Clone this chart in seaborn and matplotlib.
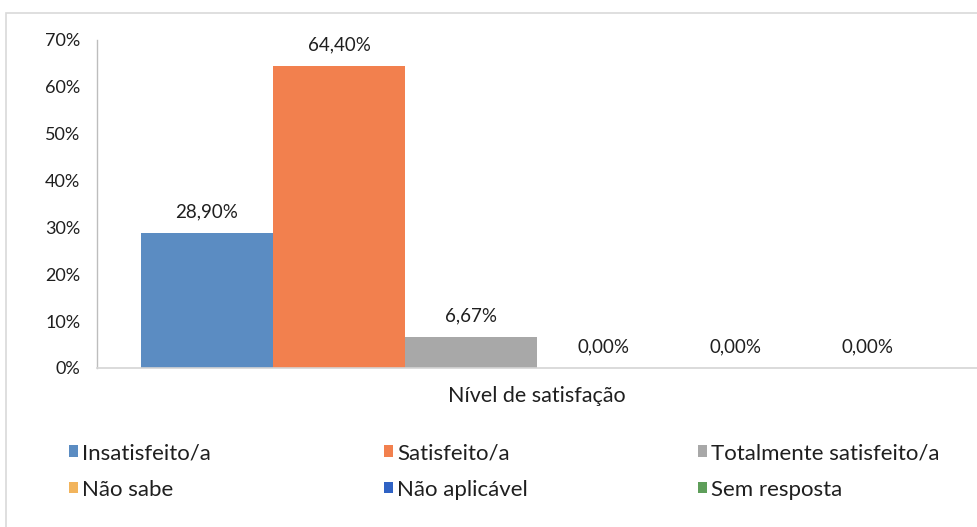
import matplotlib
matplotlib.use("Agg")
import matplotlib.pyplot as plt
from matplotlib.patches import Patch, Rectangle
from matplotlib.ticker import FuncFormatter, MultipleLocator
import seaborn as sns
import pandas as pd

# Survey results: satisfaction level (share of respondents, %)
categories = ["Insatisfeito/a", "Satisfeito/a", "Totalmente satisfeito/a",
              "Não sabe", "Não aplicável", "Sem resposta"]
values = [28.90, 64.40, 6.67, 0.00, 0.00, 0.00]
group_label = "Nível de satisfação"
colors = ["#5B8CC2", "#F2804E", "#A8A8A8", "#F2B45C", "#2F62C4", "#5E9E5A"]

df = pd.DataFrame({
    "grupo": [group_label] * len(categories),
    "categoria": categories,
    "valor": [v / 100 for v in values],
})

sns.set_theme(style="white")
plt.rcParams["font.family"] = ["Lato", "DejaVu Sans"]
text_color = "#1F1F1F"

fig = plt.figure(figsize=(9.77, 5.27), dpi=100)
ax = fig.add_axes([97 / 977, 1 - 368 / 527, 880 / 977, 328 / 527])

sns.barplot(data=df, x="grupo", y="valor", hue="categoria",
            hue_order=categories, palette=colors, width=0.9,
            saturation=1, linewidth=0, legend=False, ax=ax)

# value labels with Portuguese decimal comma
for container, v in zip(ax.containers, values):
    ax.bar_label(container, labels=[f"{v:.2f}".replace(".", ",") + "%"],
                 padding=9, fontsize=13.5, color=text_color)

ax.set_ylim(0, 0.70)
ax.set_xlim(-0.5, 0.5)
ax.yaxis.set_major_locator(MultipleLocator(0.10))
ax.yaxis.set_major_formatter(FuncFormatter(lambda y, _: f"{y * 100:.0f}%"))
ax.tick_params(axis="y", length=0, pad=12, labelsize=13, labelcolor=text_color)
ax.tick_params(axis="x", length=0, pad=13, labelsize=15.5, labelcolor=text_color)
ax.set_xlabel("")
ax.set_ylabel("")

for side in ["top", "right"]:
    ax.spines[side].set_visible(False)
ax.spines["left"].set_color("#BDBDBD")
ax.spines["left"].set_linewidth(1.0)
ax.spines["bottom"].set_color("#D4D4D4")
ax.spines["bottom"].set_linewidth(1.2)

# chart frame
fig.patches.append(Rectangle((6 / 977, -0.1), 1.2, (527 - 13) / 527 + 0.1,
                             transform=fig.transFigure, fill=False,
                             edgecolor="#D9D9D9", linewidth=1.2))

# legend laid out in three columns
columns = [[0, 3], [1, 4], [2, 5]]
col_x = [69 / 977, 384 / 977, 698 / 977]
for xpos, idxs in zip(col_x, columns):
    handles = [Patch(facecolor=colors[i], edgecolor="none") for i in idxs]
    labels = [categories[i] for i in idxs]
    fig.legend(handles, labels, loc="upper left",
               bbox_to_anchor=(xpos, 1 - 443 / 527), frameon=False,
               fontsize=16, labelcolor=text_color,
               handlelength=0.42, handleheight=0.42, handletextpad=0.18,
               labelspacing=0.75, borderaxespad=0, borderpad=0)

fig.savefig("out.png", dpi=100, facecolor="white")
